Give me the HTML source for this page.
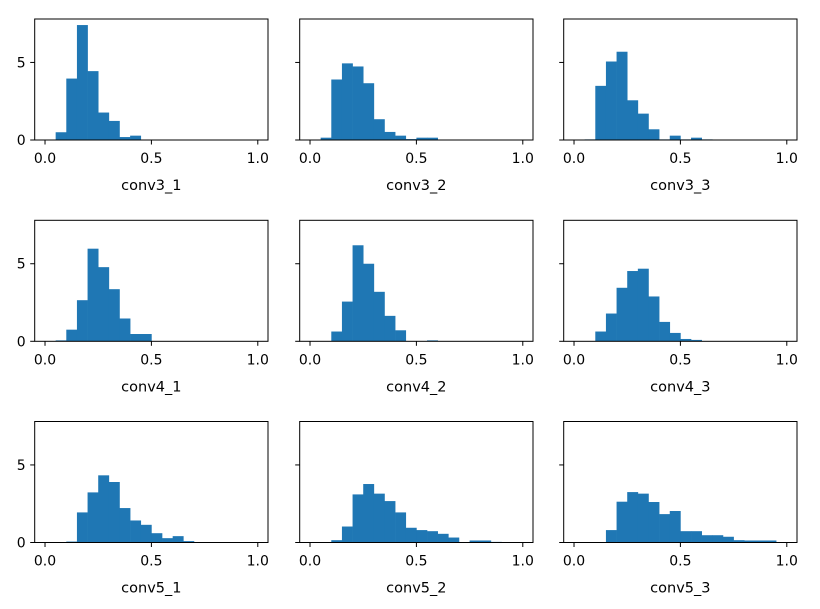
<!DOCTYPE html>
<html><head><meta charset="utf-8"><style>
html,body{margin:0;padding:0;background:#fff;}
svg{display:block;font-family:"DejaVu Sans","Liberation Sans",sans-serif;}
</style></head><body>
<svg id="chart" width="820" height="609" viewBox="0 0 820 609" xmlns="http://www.w3.org/2000/svg"></svg>
<script>
const panelNames = ["conv3_1","conv3_2","conv3_3","conv4_1","conv4_2","conv4_3","conv5_1","conv5_2","conv5_3"];
const binWidth = 0.05;
const binStarts = [0.05,0.10,0.15,0.20,0.25,0.30,0.35,0.40,0.45,0.50,0.55,0.60,0.65,0.70,0.75,0.80,0.85,0.90];
const conv3_1 = [0.5,3.96,7.41,4.44,1.77,1.23,0.19,0.28,0,0,0,0,0,0,0,0,0,0];
const conv3_2 = [0.15,3.9,4.94,4.74,3.66,1.34,0.52,0.28,0.06,0.15,0.15,0,0,0,0,0,0,0];
const conv3_3 = [0.04,3.49,5.06,5.69,2.56,1.7,0.69,0.04,0.28,0.04,0.15,0.04,0,0,0,0,0,0];
const conv4_1 = [0.06,0.75,2.65,5.97,4.78,3.36,1.47,0.47,0.47,0,0,0,0,0,0,0,0,0];
const conv4_2 = [0,0.63,2.56,6.19,5.0,3.19,1.64,0.71,0,0,0.06,0,0,0,0,0,0,0];
const conv4_3 = [0,0.63,1.79,3.45,4.53,4.68,2.89,1.25,0.54,0.15,0.09,0,0,0,0,0,0,0];
const conv5_1 = [0,0.06,1.94,3.23,4.33,3.9,2.22,1.42,1.14,0.6,0.28,0.41,0.09,0,0,0,0,0];
const conv5_2 = [0,0.15,1.03,3.1,3.77,3.15,2.67,1.94,0.95,0.8,0.73,0.56,0.32,0,0.13,0.13,0.04,0];
const conv5_3 = [0,0,0.8,2.63,3.25,3.15,2.61,1.83,2.03,0.73,0.73,0.47,0.47,0.37,0.15,0.13,0.13,0.13];
const seriesList = [conv3_1,conv3_2,conv3_3,conv4_1,conv4_2,conv4_3,conv5_1,conv5_2,conv5_3];
const xTicks = [0.0,0.5,1.0];
const xTickLabels = ["0.0","0.5","1.0"];
const yTicks = [0,5];
const yTickLabels = ["0","5"];

const svg = document.getElementById('chart');
const NS = "http://www.w3.org/2000/svg";
const colLeft = [34.7,299.7,563.7];
const rowTop = [19,220.3,421.5];
const W = 233.3, H = 121;
const xMin = -0.0485, xMax = 1.048, yMax = 7.8;
function mk(tag, attrs){const e=document.createElementNS(NS,tag);for(const k in attrs)e.setAttribute(k,attrs[k]);return e;}

seriesList.forEach((vals, p) => {
  const L = colLeft[p%3], T = rowTop[Math.floor(p/3)];
  const sx = v => L + (v - xMin)/(xMax - xMin)*W;
  const sy = v => T + H - v/yMax*H;
  const g = mk('g',{});
  
  
  svg.appendChild(g);
  vals.forEach((v,i) => {
    if (v <= 0) return;
    const x0 = sx(binStarts[i]), x1 = sx(binStarts[i]+binWidth);
    const r = mk('rect',{x:x0,y:sy(v),width:x1-x0+0.3,height:sy(0)-sy(v),fill:'#1f77b4'});
    
    
    g.appendChild(r);
  });
  const frame = mk('rect',{x:L,y:T,width:W,height:H,fill:'none',stroke:'#000','stroke-width':1});
  
  
  g.appendChild(frame);
  xTicks.forEach((t,i) => {
    const x = sx(t);
    g.appendChild(mk('line',{x1:x,y1:T+H,x2:x,y2:T+H+4.5,stroke:'#000','stroke-width':1}));
    const tx = mk('text',{x:x,y:T+H+23,'text-anchor':'middle','font-size':14,fill:'#000'});
    tx.textContent = xTickLabels[i];
    
    
    g.appendChild(tx);
  });
  yTicks.forEach((t,i) => {
    const y = sy(t);
    g.appendChild(mk('line',{x1:L-4.5,y1:y,x2:L,y2:y,stroke:'#000','stroke-width':1}));
    if (p%3===0){
      const ty = mk('text',{x:L-9,y:y+5,'text-anchor':'end','font-size':14,fill:'#000'});
      ty.textContent = yTickLabels[i];
      
      
      g.appendChild(ty);
    }
  });
  const lab = mk('text',{x:L+W/2,y:T+H+50,'text-anchor':'middle','font-size':14.5,fill:'#000'});
  lab.textContent = panelNames[p];
  
  
  g.appendChild(lab);
});
</script>
</body></html>
